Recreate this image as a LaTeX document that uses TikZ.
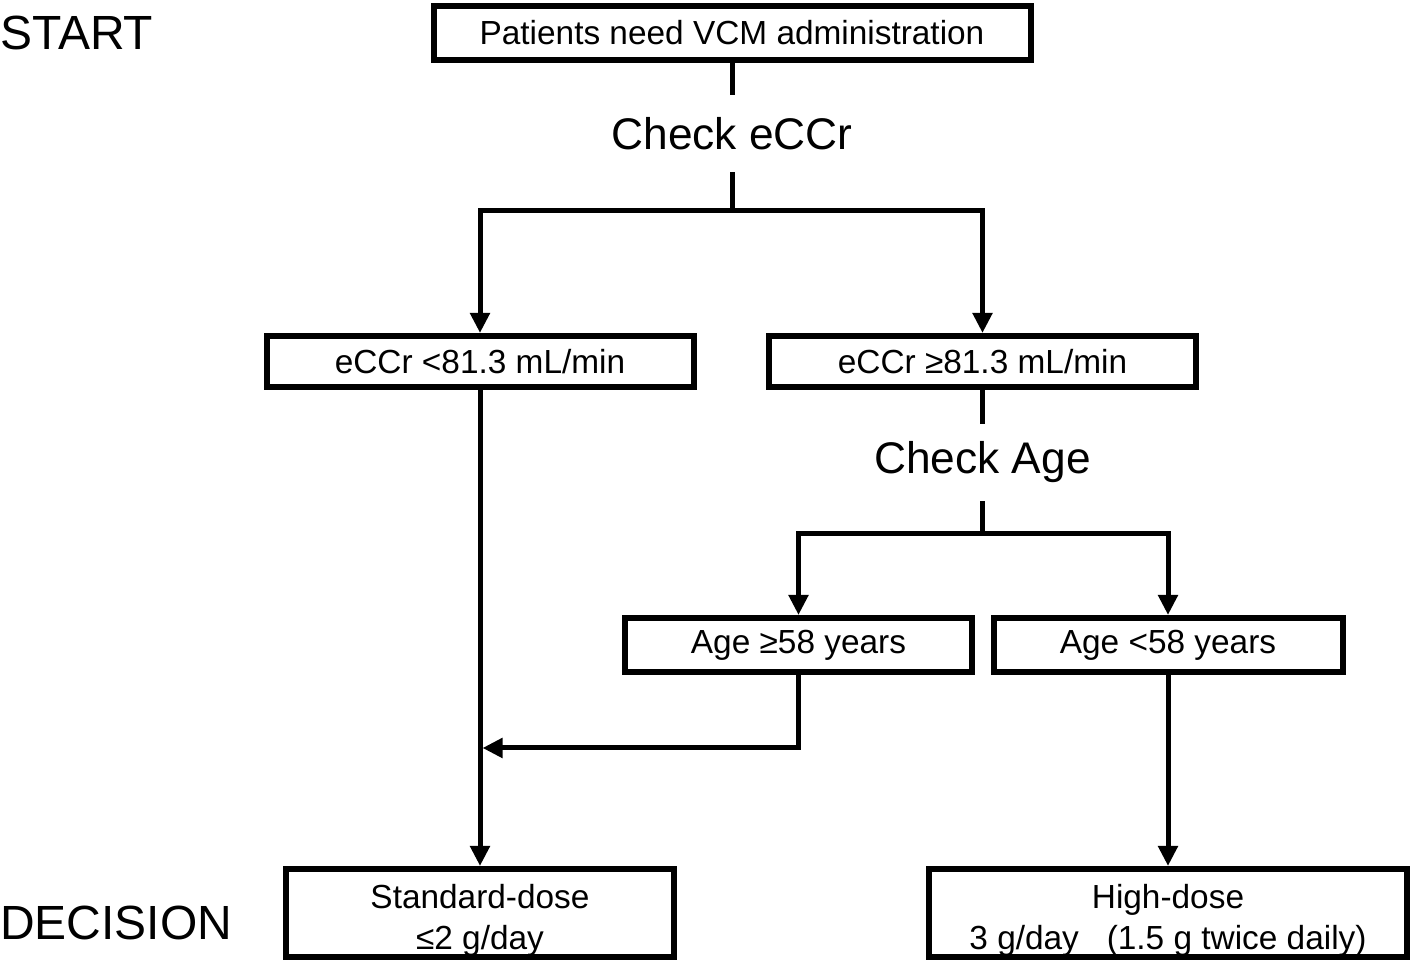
\documentclass[tikz,border=0pt]{standalone}
\usepackage{fontspec}
\setmainfont{Liberation Sans}
\usetikzlibrary{arrows.meta}

\begin{document}
\begin{tikzpicture}[
  box/.style={draw,line width=0.12cm,inner sep=0,align=center,font=\fontsize{19}{22.8}\selectfont},
  check/.style={inner sep=0,minimum height=1.54cm,font=\fontsize{25.2}{30}\selectfont},
  stage/.style={right,inner sep=0,font=\fontsize{27.3}{32}\selectfont},
  link/.style={line width=0.1cm},
  arrow/.style={link,-{Triangle[width=0.38cm,length=0.4cm]}}]
\useasboundingbox (0,0) rectangle (28.4,19.44);

% Stages
\node[stage] (start) at (0,18.78) {START};
\node[stage] (decision) at (0,0.98) {DECISION};

% Boxes
\node[box,minimum width=11.94cm,minimum height=1.08cm] (need) at (14.64,18.78) {Patients need VCM administration};
\node[box,minimum width=8.54cm,minimum height=1.02cm] (low) at (9.6,12.21) {eCCr <81.3 mL/min};
\node[box,minimum width=8.54cm,minimum height=1.02cm] (hi) at (19.65,12.21) {eCCr ≥81.3 mL/min};
\node[box,minimum width=6.94cm,minimum height=1.08cm] (old) at (15.97,6.54) {Age ≥58 years};
\node[box,minimum width=6.98cm,minimum height=1.08cm] (young) at (23.36,6.54) {Age <58 years};
\node[box,minimum width=7.76cm,minimum height=1.76cm] (std) at (9.6,1.18) {\rule{0pt}{0.78cm}Standard-dose\\ ≤2 g/day};
\node[box,minimum width=9.56cm,minimum height=1.76cm] (dose) at (23.36,1.18) {\rule{0pt}{0.78cm}High-dose\\ 3 g/day~~~(1.5 g twice daily)};

% Checks
\node[check] (checkcr) at (14.64,16.77) {Check eCCr};
\node[check] (checkage) at (19.65,10.19) {Check Age};

% Connectors
\draw[link] (need) -- (checkcr);
\draw[link] (checkcr.south) -- ++(0,-0.76) coordinate (fork1);
\draw[arrow] (fork1) -| (low.north);
\draw[arrow] (fork1) -| (hi.north);
\draw[link] (hi) -- (checkage);
\draw[link] (checkage.south) -- ++(0,-0.64) coordinate (fork2);
\draw[arrow] (fork2) -| (old.north);
\draw[arrow] (fork2) -| (young.north);
\draw[arrow] (low) -- (std);
\coordinate (merge) at (9.65,4.48);
\draw[arrow] (old.south) |- (merge);
\draw[arrow] (young) -- (dose);
\end{tikzpicture}
\end{document}
